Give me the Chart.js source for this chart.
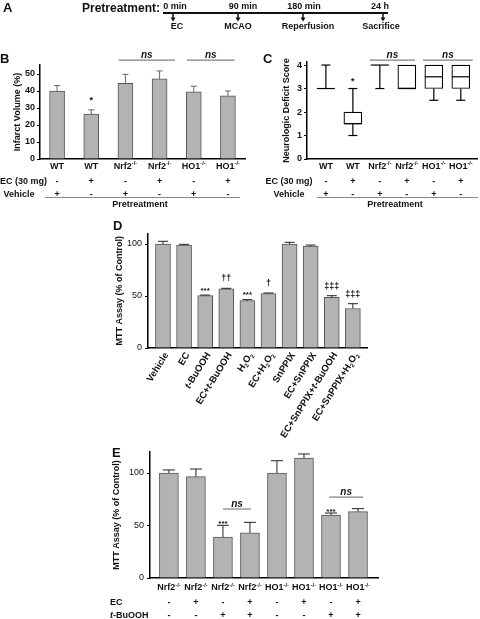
<!DOCTYPE html>
<html>
<head>
<meta charset="utf-8">
<script src="https://cdn.jsdelivr.net/npm/chart.js@4.4.1/dist/chart.umd.min.js"></script>
<style>
body { margin: 0; background: #fff; }
#wrap { position: relative; width: 480px; height: 619px; overflow: hidden; background: #fff; }
canvas { position: absolute; }
</style>
</head>
<body>
<div id="wrap">
  <canvas id="pA" width="480" height="40" style="left:0;top:0"></canvas>
  <canvas id="pB"></canvas>
  <canvas id="pC"></canvas>
  <canvas id="pD"></canvas>
  <canvas id="pE"></canvas>
</div>
<script>
var FONT = '"Liberation Sans", Arial, Helvetica, sans-serif';

// ---- panel A: timeline
var aTimes = ['0 min', '90 min', '180 min', '24 h'];
var aEvents = ['EC', 'MCAO', 'Reperfusion', 'Sacrifice'];

// ---- panel B: infarct volume
var bGroups = ['WT', 'WT', 'Nrf2^{-/-}', 'Nrf2^{-/-}', 'HO1^{-/-}', 'HO1^{-/-}'];
var bEC = ['-', '+', '-', '+', '-', '+'];
var bVehicle = ['+', '-', '+', '-', '+', '-'];
var bInfarct = [40, 26.4, 44.5, 47.1, 39.5, 37.1];
var bInfarctErr = [3.2, 2.5, 5.3, 4.7, 3.3, 2.9];
var bMarks = ['', '*', '', '', '', ''];
var bTicks = [0, 10, 20, 30, 40, 50];

// ---- panel C: neurologic deficit score (box plots)
var cMin = [3, 1, 3, 3, 2.5, 2.5];
var cQ1 = [3, 1.5, 4, 3, 3, 3];
var cMedian = [3, 1.5, 4, 3, 3.5, 3.5];
var cQ3 = [3, 2, 4, 4, 4, 4];
var cMax = [4, 3, 4, 4, 4, 4];
var cMarks = ['', '*', '', '', '', ''];
var cTicks = [0, 1, 2, 3, 4];

// ---- panel D: MTT assay, treatments
var dLabels = ['Vehicle', 'EC', '*t*-BuOOH', 'EC+*t*-BuOOH', 'H_{2}O_{2}', 'EC+H_{2}O_{2}',
  'SnPPIX', 'EC+SnPPIX', 'EC+SnPPIX+*t*-BuOOH', 'EC+SnPPIX+H_{2}O_{2}'];
var dMTT = [100, 99, 50.3, 56.8, 45.5, 52.3, 100, 98, 48.7, 38];
var dMTTErr = [2.6, 0.7, 0.6, 0.6, 1, 0.6, 1.6, 1, 1.6, 4.6];
var dMarks = ['', '', '***', '\u2020\u2020', '***', '\u2020', '', '', '\u2021\u2021\u2021', '\u2021\u2021\u2021'];
var dTicks = [0, 50, 100];

// ---- panel E: MTT assay, knockouts
var eGroups = ['Nrf2^{-/-}', 'Nrf2^{-/-}', 'Nrf2^{-/-}', 'Nrf2^{-/-}', 'HO1^{-/-}', 'HO1^{-/-}', 'HO1^{-/-}', 'HO1^{-/-}'];
var eEC = ['-', '+', '-', '+', '-', '+', '-', '+'];
var eBuOOH = ['-', '-', '+', '+', '-', '-', '+', '+'];
var eMTT = [100, 96.5, 39, 43, 100, 114.3, 60, 63.2];
var eMTTErr = [2.9, 7.3, 11.2, 10, 11.7, 3.8, 1.9, 2.8];
var eMarks = ['', '', '***', '', '', '', '***', ''];
var eTicks = [0, 50, 100];

// rich text: ^{sup}, _{sub}, *italic*
function parseRich(s) {
  var out = [];
  s.split(/(\^\{[^}]*\}|_\{[^}]*\}|\*[^*]+\*)/).forEach(function (p) {
    if (!p) return;
    if (p[0] === '^') out.push({ t: p.slice(2, -1), k: 'sup' });
    else if (p[0] === '_') out.push({ t: p.slice(2, -1), k: 'sub' });
    else if (p[0] === '*' && p.length > 2) out.push({ t: p.slice(1, -1), k: 'it' });
    else out.push({ t: p, k: '' });
  });
  return out;
}

function rich(ctx, s, x, y, size, bold, align) {
  var segs = parseRich(s), w = 0;
  segs.forEach(function (g) {
    g.size = (g.k === 'sup' || g.k === 'sub') ? size * 0.62 : size;
    g.font = (g.k === 'it' ? 'italic ' : '') + (bold ? 'bold ' : '') + g.size + 'px ' + FONT;
    ctx.font = g.font;
    g.w = ctx.measureText(g.t).width;
    w += g.w;
  });
  var cx = align === 'center' ? x - w / 2 : (align === 'right' ? x - w : x);
  var base = y + size * 0.35;
  ctx.textAlign = 'left';
  ctx.textBaseline = 'alphabetic';
  segs.forEach(function (g) {
    ctx.font = g.font;
    var yy = g.k === 'sup' ? base - size * 0.38 : (g.k === 'sub' ? base + size * 0.22 : base);
    ctx.fillText(g.t, cx, yy);
    cx += g.w;
  });
}

function seg(ctx, x1, y1, x2, y2) {
  ctx.beginPath(); ctx.moveTo(x1, y1); ctx.lineTo(x2, y2); ctx.stroke();
}

// extra drawing for one panel, coordinates in page pixels
function extras(o) {
  return {
    id: 'extras',
    afterDraw: function (chart) {
      var ctx = chart.ctx, xs = chart.scales.x, ys = chart.scales.y;
      var px = function (i) { return xs.getPixelForValue(i) + o.left; };
      var py = function (v) { return ys.getPixelForValue(v) + o.top; };
      ctx.save();
      ctx.translate(-o.left, -o.top);
      ctx.fillStyle = '#111';

      if (o.err) {
        ctx.strokeStyle = o.err.color; ctx.lineWidth = 1;
        o.err.values.forEach(function (v, i) {
          var x = px(i), y1 = py(v + o.err.sd[i]);
          seg(ctx, x, py(v), x, y1);
          seg(ctx, x - o.err.cap / 2, y1, x + o.err.cap / 2, y1);
        });
      }
      if (o.box) {
        var b = o.box;
        ctx.strokeStyle = '#000'; ctx.lineWidth = 1.2;
        b.min.forEach(function (mn, i) {
          var x = px(i);
          seg(ctx, x, py(mn), x, py(b.q1[i]));
          seg(ctx, x, py(b.q3[i]), x, py(b.max[i]));
          if (mn < b.q1[i]) seg(ctx, x - b.cap / 2, py(mn), x + b.cap / 2, py(mn));
          if (b.max[i] > b.q3[i]) seg(ctx, x - b.cap / 2, py(b.max[i]), x + b.cap / 2, py(b.max[i]));
          seg(ctx, x - b.width / 2, py(b.med[i]), x + b.width / 2, py(b.med[i]));
        });
      }
      if (o.marks) {
        ctx.textAlign = 'center'; ctx.textBaseline = 'alphabetic';
        o.marks.texts.forEach(function (t, i) {
          if (!t) return;
          var star = t[0] === '*';
          ctx.font = 'bold ' + (star ? o.marks.starSize : o.marks.dagSize) + 'px ' + FONT;
          ctx.fillText(t, px(i), py(o.marks.tops[i]) - (star ? o.marks.starDy : o.marks.dagDy));
        });
      }
      if (o.ns) {
        o.ns.forEach(function (n) {
          ctx.strokeStyle = '#808080'; ctx.lineWidth = 1.2;
          var x1 = px(n.from), x2 = px(n.to), y = py(n.at);
          seg(ctx, x1, y, x2, y);
          ctx.font = 'italic bold 10px ' + FONT;
          ctx.textAlign = 'center'; ctx.textBaseline = 'alphabetic';
          ctx.fillText('ns', (x1 + x2) / 2, y - 2);
        });
      }
      if (o.groups) {
        o.groups.labels.forEach(function (l, i) { rich(ctx, l, px(i), o.groups.y, 9, true, 'center'); });
      }
      if (o.rows) {
        o.rows.forEach(function (r) {
          rich(ctx, r.title, r.tx, r.y, 9, true, r.align || 'center');
          r.values.forEach(function (v, i) { rich(ctx, v, px(i), r.y, 9, true, 'center'); });
        });
      }
      if (o.pre) {
        ctx.strokeStyle = '#8a8a8a'; ctx.lineWidth = 1;
        seg(ctx, o.pre.x1, o.pre.y, o.pre.x2, o.pre.y);
        rich(ctx, 'Pretreatment', o.pre.tx, o.pre.ty, 9, true, 'center');
      }
      if (o.rotated) {
        o.rotated.labels.forEach(function (l, i) {
          ctx.save();
          ctx.translate(px(i) + 3, o.rotated.y);
          ctx.rotate(-o.rotated.angle * Math.PI / 180);
          rich(ctx, l, 0, 0, 9.5, true, 'right');
          ctx.restore();
        });
      }
      if (o.letter) {
        ctx.font = 'bold 13px ' + FONT;
        ctx.textAlign = 'left'; ctx.textBaseline = 'alphabetic';
        ctx.fillText(o.letter.t, o.letter.x, o.letter.y);
      }
      ctx.restore();
    }
  };
}

// box = [left, top, w, h] of canvas, area = [l, t, r, b] of plot, page pixels
function makePanel(id, box, area, y, xRange, datasets, ex) {
  var cv = document.getElementById(id);
  cv.width = box[2]; cv.height = box[3];
  cv.style.left = box[0] + 'px'; cv.style.top = box[1] + 'px';
  ex.left = box[0]; ex.top = box[1];
  return new Chart(cv, {
    type: 'bar',
    data: { datasets: datasets },
    plugins: [extras(ex)],
    options: {
      responsive: false,
      animation: false,
      devicePixelRatio: 1,
      layout: {
        autoPadding: false,
        padding: { left: 0, top: area[1] - box[1], right: box[0] + box[2] - area[2], bottom: box[1] + box[3] - area[3] }
      },
      plugins: { legend: { display: false }, tooltip: { enabled: false } },
      scales: {
        x: {
          type: 'linear', min: xRange[0], max: xRange[1], offset: false,
          ticks: { display: false },
          grid: { display: false },
          border: { color: '#000', width: 1.5 },
          afterFit: function (s) { s.height = 0; }
        },
        y: {
          min: 0, max: y.max,
          afterBuildTicks: function (s) { s.ticks = y.ticks.map(function (v) { return { value: v }; }); },
          ticks: { color: '#111', padding: y.pad, font: { family: FONT, size: 9, weight: y.bold ? 'bold' : 'normal' } },
          grid: { drawOnChartArea: false, tickLength: 3, color: '#000', lineWidth: 1 },
          border: { color: '#000', width: 1.5 },
          title: {
            display: true, text: y.title, color: '#111',
            font: { family: FONT, size: 9, weight: 'bold', lineHeight: 1 },
            padding: { top: y.titleX - box[0] - 4.5, bottom: 0 }
          },
          afterFit: function (s) { s.width = area[0] - box[0]; }
        }
      }
    }
  });
}

function barSet(vals, w) {
  return [{
    data: vals.map(function (v, i) { return { x: i, y: v }; }),
    backgroundColor: '#b3b3b3', borderColor: '#555', borderWidth: 1, barThickness: w
  }];
}

function tops(vals, err) { return vals.map(function (v, i) { return v + err[i]; }); }

// ---- A
(function () {
  var a = document.getElementById('pA').getContext('2d');
  var timeX = [175, 243, 304, 380], arrowX = [173, 238, 303, 383], eventX = [177, 238, 308, 381];
  a.fillStyle = '#111'; a.strokeStyle = '#111';
  a.font = 'bold 13px ' + FONT; a.fillText('A', 3, 12);
  rich(a, 'Pretreatment:', 82, 7.5, 12, true, 'left');
  a.lineWidth = 2; seg(a, 163, 13, 388, 13);
  aTimes.forEach(function (t, i) { rich(a, t, timeX[i], 6, 9, true, 'center'); });
  arrowX.forEach(function (x) {
    a.lineWidth = 1.5; seg(a, x, 14, x, 18);
    a.beginPath(); a.moveTo(x - 2.5, 17.5); a.lineTo(x + 2.5, 17.5); a.lineTo(x, 21.5); a.closePath(); a.fill();
  });
  aEvents.forEach(function (t, i) { rich(a, t, eventX[i], 26, 9, true, 'center'); });
})();

// ---- B
makePanel('pB', [0, 40, 250, 175], [40, 65, 245, 159],
  { max: 55.3, ticks: bTicks, pad: 2, bold: true, title: 'Infarct Volume (%)', titleX: 18 },
  [-0.5, 5.5], barSet(bInfarct, 15), {
    err: { values: bInfarct, sd: bInfarctErr, cap: 6, color: '#666' },
    marks: { texts: bMarks, tops: tops(bInfarct, bInfarctErr), starSize: 9, starDy: 7, dagSize: 9, dagDy: 7 },
    ns: [{ from: 1.8, to: 3.45, at: 58.2 }, { from: 3.8, to: 5.2, at: 58.2 }],
    groups: { labels: bGroups, y: 165.5 },
    rows: [{ title: 'EC (30 mg)', tx: 23.5, y: 180.5, values: bEC }, { title: 'Vehicle', tx: 19, y: 193.5, values: bVehicle }],
    pre: { x1: 45, x2: 240, y: 197.5, tx: 140, ty: 203.5 },
    letter: { t: 'B', x: 0, y: 63 }
  });

// ---- C
makePanel('pC', [245, 40, 235, 175], [307, 62, 477, 159],
  { max: 4.13, ticks: cTicks, pad: 2, bold: true, title: 'Neurologic Deficit Score', titleX: 287 },
  [-0.7, 5.6], [{
    data: cQ1.map(function (q, i) { return { x: i, y: [q, cQ3[i]] }; }),
    backgroundColor: '#fff', borderColor: '#000', borderWidth: 1.2, borderSkipped: false, barThickness: 18
  }], {
    box: { min: cMin, q1: cQ1, med: cMedian, q3: cQ3, max: cMax, width: 18, cap: 9 },
    marks: { texts: cMarks, tops: cMax, starSize: 9, starDy: 4.5, dagSize: 9, dagDy: 7 },
    ns: [{ from: 1.63, to: 3.3, at: 4.21 }, { from: 3.6, to: 5.44, at: 4.21 }],
    groups: { labels: bGroups, y: 165.5 },
    rows: [{ title: 'EC (30 mg)', tx: 289, y: 180.5, values: bEC }, { title: 'Vehicle', tx: 289, y: 193.5, values: bVehicle }],
    pre: { x1: 317, x2: 478, y: 197.5, tx: 395, ty: 203.5 },
    letter: { t: 'C', x: 263, y: 63 }
  });

// ---- D
makePanel('pD', [90, 215, 300, 225], [148, 233.6, 367, 348],
  { max: 110, ticks: dTicks, pad: 3, bold: false, title: 'MTT Assay (% of Control)', titleX: 120 },
  [-0.71, 9.67], barSet(dMTT, 15), {
    err: { values: dMTT, sd: dMTTErr, cap: 10, color: '#222' },
    marks: { texts: dMarks, tops: tops(dMTT, dMTTErr), starSize: 8, starDy: 2.5, dagSize: 9, dagDy: 7 },
    rotated: { labels: dLabels, y: 353, angle: 58 },
    letter: { t: 'D', x: 113, y: 230 }
  });

// ---- E
makePanel('pE', [90, 435, 300, 184], [150, 452, 378, 578],
  { max: 120, ticks: eTicks, pad: 3, bold: false, title: 'MTT Assay (% of Control)', titleX: 117 },
  [-0.7, 7.74], barSet(eMTT, 19), {
    err: { values: eMTT, sd: eMTTErr, cap: 12, color: '#222' },
    marks: { texts: eMarks, tops: tops(eMTT, eMTTErr), starSize: 8, starDy: -1, dagSize: 9, dagDy: 7 },
    ns: [{ from: 2, to: 3.04, at: 65.7 }, { from: 5.93, to: 7.19, at: 77 }],
    groups: { labels: eGroups, y: 587 },
    rows: [{ title: 'EC', tx: 110, align: 'left', y: 602, values: eEC }, { title: '*t*-BuOOH', tx: 110, align: 'left', y: 615, values: eBuOOH }],
    letter: { t: 'E', x: 112, y: 457 }
  });
</script>
</body>
</html>
